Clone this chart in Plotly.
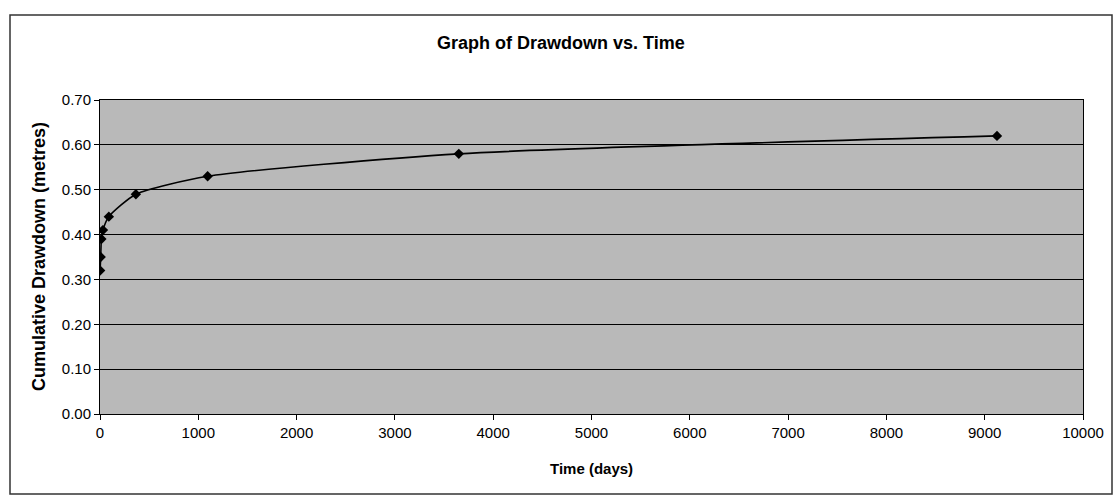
import plotly.graph_objects as go

# Data
time_days = [1, 7, 14, 30, 90, 365, 1095, 3650, 9125]
drawdown_m = [0.32, 0.35, 0.39, 0.41, 0.44, 0.49, 0.53, 0.58, 0.62]

x_ticks = [0, 1000, 2000, 3000, 4000, 5000, 6000, 7000, 8000, 9000, 10000]
y_ticks = [0.0, 0.1, 0.2, 0.3, 0.4, 0.5, 0.6, 0.7]

title_text = "Graph of Drawdown vs. Time"
x_title = "Time (days)"
y_title = "Cumulative Drawdown (metres)"

FONT = "Liberation Sans, Arial, sans-serif"

fig = go.Figure()
fig.add_trace(go.Scatter(
    x=time_days, y=drawdown_m,
    mode="lines+markers",
    line=dict(color="black", width=1.6, shape="spline", smoothing=0.6),
    marker=dict(symbol="diamond", size=8, color="black"),
    showlegend=False,
    hoverinfo="x+y",
))

W, H = 1115, 495
L, R, T, B = 100, 32, 100, 81
pw = W - L - R
ph = H - T - B

def px_x(px):
    return (px - L) / pw

def px_y(py):
    return (H - B - py) / ph

fig.update_layout(
    width=W, height=H,
    margin=dict(l=L, r=R, t=T, b=B),
    paper_bgcolor="white",
    plot_bgcolor="#b9b9b9",
    font=dict(family=FONT, size=15, color="black"),
    xaxis=dict(
        range=[0, 10000], tickvals=x_ticks, ticktext=[str(v) for v in x_ticks],
        showgrid=False, zeroline=False,
        showline=True, linecolor="black", linewidth=1, mirror=True,
        ticks="outside", ticklen=5, tickcolor="black",
        tickfont=dict(size=15),
    ),
    yaxis=dict(
        range=[0, 0.7], tickvals=y_ticks, ticktext=[f"{v:.2f}" for v in y_ticks],
        showgrid=True, gridcolor="black", gridwidth=1, zeroline=False,
        showline=True, linecolor="black", linewidth=1, mirror=True,
        ticks="outside", ticklen=5, tickcolor="black",
        tickfont=dict(size=15),
    ),
    annotations=[
        dict(text="<b>" + title_text + "</b>", xref="paper", yref="paper",
             x=px_x(561), y=px_y(43), xanchor="center", yanchor="middle",
             showarrow=False, font=dict(size=18, family=FONT)),
        dict(text="<b>" + x_title + "</b>", xref="paper", yref="paper",
             x=px_x(591), y=px_y(468), xanchor="center", yanchor="middle",
             showarrow=False, font=dict(size=15, family=FONT)),
        dict(text="<b>" + y_title + "</b>", xref="paper", yref="paper",
             x=px_x(39), y=0.5, xanchor="center", yanchor="middle",
             textangle=-90, showarrow=False, font=dict(size=18, family=FONT)),
    ],
    shapes=[
        dict(type="rect", xref="paper", yref="paper",
             x0=px_x(10), x1=px_x(1112), y0=px_y(494), y1=px_y(15),
             line=dict(color="#333333", width=1.5), fillcolor="rgba(0,0,0,0)",
             layer="below"),
    ],
)

fig.write_html("out.html",
               config={"displayModeBar": False},
               post_script="document.body.style.margin='0';document.body.style.padding='0';")
